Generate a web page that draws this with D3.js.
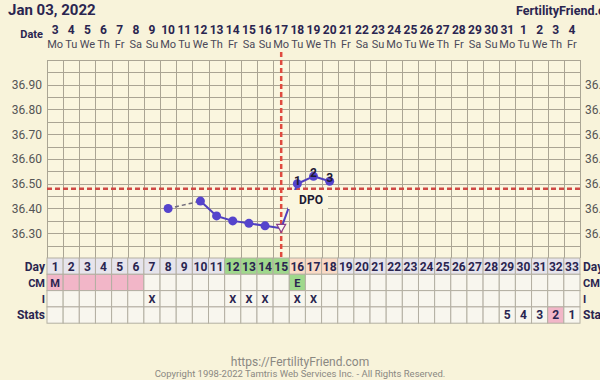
<!DOCTYPE html>
<html>
<head>
<meta charset="utf-8">
<script src="https://cdn.jsdelivr.net/npm/d3@7"></script>
<style>
  html, body { margin: 0; padding: 0; background: #fff; }
  svg { display: block; }
  text { font-family: Roboto, "Noto Sans", sans-serif; }
</style>
</head>
<body>
<div id="chart"></div>
<script>
// chart values
const cycleDays = d3.range(1, 34)
const dateLabels = [3,4,5,6,7,8,9,10,11,12,13,14,15,16,17,18,19,20,21,22,23,24,25,26,27,28,29,30,31,1,2,3,4]
const weekdays = ['Mo','Tu','We','Th','Fr','Sa','Su','Mo','Tu','We','Th','Fr','Sa','Su','Mo','Tu','We','Th','Fr','Sa','Su','Mo','Tu','We','Th','Fr','Sa','Su','Mo','Tu','We','Th','Fr']
const tempTicks = [36.30, 36.40, 36.50, 36.60, 36.70, 36.80, 36.90]

const tempDays = [8, 10, 11, 12, 13, 14, 15, 16, 17, 18]
const temps = [36.40, 36.43, 36.37, 36.35, 36.34, 36.33, 36.32, 36.50, 36.53, 36.51]
const dpoDays = [16, 17, 18]
const dpoLabels = ['1', '2', '3']
const coverline = 36.48
const ovulationDay = 15

const fertileDays = [12, 13, 14, 15]
const lutealDays = [16, 17, 18]
const cmMenses = [1, 2, 3, 4, 5, 6]
const cmEggWhite = [16]
const intercourseDays = [7, 12, 13, 14, 16, 17]
const statsDays = [29, 30, 31, 32, 33]
const statsValues = ['5', '4', '3', '2', '1']
const statsHighlight = [32]

const W = 600, H = 385
const gridTop = 60, gridBottom = 258
const rowH = 16.3

const svg = d3.select('#chart').append('svg').attr('width', W).attr('height', H)

svg.append('rect').attr('width', W).attr('height', 380).attr('fill', '#f8f3da')

const x = d3.scaleBand().domain(cycleDays).range([47, 580])
const cx = d => x(d) + x.bandwidth() / 2
const y = d3.scaleLinear().domain([36.20, 37.00]).range([gridBottom, gridTop])

// header
svg.append('text').attr('x', 8).attr('y', 15).text('Jan 03, 2022')
    .attr('font-size', 15).attr('font-weight', 'bold').attr('fill', '#2a2550')
svg.append('text').attr('x', 516).attr('y', 15).text('FertilityFriend.com')
    .attr('font-size', 12.5).attr('font-weight', 'bold').attr('fill', '#2a2550')
svg.append('text').attr('x', 43).attr('y', 38).attr('text-anchor', 'end').text('Date')
    .attr('font-size', 11).attr('font-weight', 'bold').attr('fill', '#2a2550')

svg.append('g').selectAll('text').data(cycleDays).join('text')
    .attr('x', d => cx(d)).attr('y', 34).attr('text-anchor', 'middle')
    .attr('font-size', 12).attr('font-weight', 'bold').attr('fill', '#2a2550')
    .text((d, i) => dateLabels[i])
svg.append('g').selectAll('text').data(cycleDays).join('text')
    .attr('x', d => cx(d)).attr('y', 48).attr('text-anchor', 'middle')
    .attr('font-size', 11).attr('fill', '#4a4858')
    .text((d, i) => weekdays[i])

// temperature grid
svg.append('rect').attr('x', 47).attr('y', gridTop).attr('width', 533).attr('height', gridBottom - gridTop)
    .attr('fill', '#faf6df')

const grid = svg.append('g').attr('stroke', '#aaa594').attr('stroke-width', 1)
grid.selectAll('line.h').data(d3.range(0, 17)).join('line').attr('class', 'h')
    .attr('x1', 47).attr('x2', 580)
    .attr('y1', i => Math.round(y(36.20 + i * 0.05)) + 0.5).attr('y2', i => Math.round(y(36.20 + i * 0.05)) + 0.5)
grid.selectAll('line.v').data(d3.range(0, 34)).join('line').attr('class', 'v')
    .attr('x1', i => Math.round(47 + i * x.bandwidth()) + 0.5).attr('x2', i => Math.round(47 + i * x.bandwidth()) + 0.5)
    .attr('y1', gridTop).attr('y2', gridBottom)

const axisL = d3.axisLeft(y).tickValues(tempTicks).tickFormat(d3.format('.2f')).tickSize(0).tickPadding(5)
const axisR = d3.axisRight(y).tickValues(tempTicks).tickFormat(d3.format('.2f')).tickSize(0).tickPadding(5)
for (const [ax, tx] of [[axisL, 47], [axisR, 580]]) {
    const g = svg.append('g').attr('transform', `translate(${tx},0)`).call(ax)
    g.select('.domain').remove()
    g.selectAll('text').attr('font-size', 12).attr('fill', '#555').attr('font-family', 'Roboto, sans-serif')
}

// coverline and ovulation line
svg.append('line').attr('x1', 47).attr('x2', 580).attr('y1', y(coverline)).attr('y2', y(coverline))
    .attr('stroke', '#cf4a45').attr('stroke-width', 2.5).attr('stroke-dasharray', '5,3')
svg.append('line').attr('x1', cx(ovulationDay)).attr('x2', cx(ovulationDay)).attr('y1', 52).attr('y2', gridBottom)
    .attr('stroke', '#e04a3f').attr('stroke-width', 2.5).attr('stroke-dasharray', '5,3')

// temperature line
const pts = tempDays.map((d, i) => [cx(d), y(temps[i])])
const line = d3.line()
for (let i = 1; i < pts.length; i++) {
    const gap = tempDays[i] - tempDays[i - 1] > 1
    svg.append('path').attr('d', line([pts[i - 1], pts[i]])).attr('fill', 'none')
        .attr('stroke', gap ? '#6e6a7a' : '#4f3fbf').attr('stroke-width', gap ? 1.5 : 2)
        .attr('stroke-dasharray', gap ? '4,3' : null)
}

svg.append('g').selectAll('circle').data(tempDays.map((d, i) => i).filter(i => tempDays[i] !== ovulationDay)).join('circle')
    .attr('cx', i => pts[i][0]).attr('cy', i => pts[i][1]).attr('r', 4.5).attr('fill', '#5544cc')

const ti = tempDays.indexOf(ovulationDay)
const [tx, ty] = pts[ti]
svg.append('path').attr('d', `M${tx - 4.5},${ty - 4} L${tx + 4.5},${ty - 4} L${tx},${ty + 4} Z`)
    .attr('fill', '#fbf7ee').attr('stroke', '#8a3f8a').attr('stroke-width', 1.2)

svg.append('g').selectAll('text').data(dpoDays).join('text')
    .attr('x', d => cx(d)).attr('y', (d, i) => y(temps[tempDays.indexOf(d)]) + 1)
    .attr('text-anchor', 'middle').attr('font-size', 12).attr('font-weight', 'bold').attr('fill', '#1d1a33')
    .text((d, i) => dpoLabels[i])

// DPO label with background
svg.append('rect').attr('x', 288).attr('y', 190).attr('width', 40).attr('height', 19).attr('fill', '#faf6df')
svg.append('text').attr('x', 311).attr('y', 204).attr('text-anchor', 'middle')
    .attr('font-size', 12).attr('font-weight', 'bold').attr('fill', '#1d1a33').text('DPO')

// table
const rowNames = ['Day', 'CM', 'I', 'Stats']
const rowY = i => gridBottom + i * rowH
const table = svg.append('g')
rowNames.forEach((name, r) => {
    table.selectAll(null).data(cycleDays).join('rect')
        .attr('x', d => x(d)).attr('y', rowY(r)).attr('width', x.bandwidth()).attr('height', rowH)
        .attr('fill', d => {
            if (r === 0) return fertileDays.includes(d) ? '#9fd88c' : lutealDays.includes(d) ? '#f9dac6' : '#e6e4ec'
            if (r === 1) return cmMenses.includes(d) ? '#f2b6c8' : cmEggWhite.includes(d) ? '#9fd88c' : '#f8f6ee'
            if (r === 3) return statsHighlight.includes(d) ? '#f2b6c8' : '#f8f6ee'
            return '#f8f6ee'
        })
        .attr('stroke', '#b3afa2').attr('stroke-width', 1)
    const serif = name === 'CM' || name === 'I'
    const fam = serif ? '"DejaVu Serif", "Liberation Serif", serif' : 'Roboto, sans-serif'
    table.append('text').attr('x', 45).attr('y', rowY(r) + 12.5).attr('text-anchor', 'end')
        .attr('font-size', serif ? 11 : 12).attr('font-weight', 'bold').attr('fill', '#2a2550')
        .attr('font-family', fam).text(name)
    table.append('text').attr('x', 583).attr('y', rowY(r) + 12.5)
        .attr('font-size', serif ? 11 : 12).attr('font-weight', 'bold').attr('fill', '#2a2550')
        .attr('font-family', fam).text(name)
})

table.selectAll(null).data(cycleDays).join('text')
    .attr('x', d => cx(d)).attr('y', rowY(0) + 12.5).attr('text-anchor', 'middle')
    .attr('font-size', 12).attr('font-weight', 'bold').attr('fill', '#2a2550').text(d => d)

const serifFam = '"DejaVu Serif", "Liberation Serif", serif'
table.append('text').attr('x', cx(1)).attr('y', rowY(1) + 12.5).attr('text-anchor', 'middle')
    .attr('font-family', serifFam).attr('font-size', 11).attr('font-weight', 'bold').attr('fill', '#2a2550').text('M')
table.selectAll(null).data(cmEggWhite).join('text')
    .attr('x', d => cx(d)).attr('y', rowY(1) + 12.5).attr('text-anchor', 'middle')
    .attr('font-family', serifFam).attr('font-size', 11).attr('font-weight', 'bold').attr('fill', '#2a2550').text('E')
table.selectAll(null).data(intercourseDays).join('text')
    .attr('x', d => cx(d)).attr('y', rowY(2) + 12.5).attr('text-anchor', 'middle')
    .attr('font-family', serifFam).attr('font-size', 11).attr('font-weight', 'bold').attr('fill', '#2a2550').text('X')
table.selectAll(null).data(statsDays).join('text')
    .attr('x', d => cx(d)).attr('y', rowY(3) + 12.5).attr('text-anchor', 'middle')
    .attr('font-size', 12).attr('font-weight', 'bold').attr('fill', '#2a2550')
    .text((d, i) => statsValues[i])

// footer
svg.append('text').attr('x', 300).attr('y', 366).attr('text-anchor', 'middle')
    .attr('font-size', 12).attr('fill', '#8a8882').text('https://FertilityFriend.com')
svg.append('text').attr('x', 300).attr('y', 377).attr('text-anchor', 'middle')
    .attr('font-size', 9.5).attr('fill', '#8a8882').text('Copyright 1998-2022 Tamtris Web Services Inc. - All Rights Reserved.')
</script>
</body>
</html>
